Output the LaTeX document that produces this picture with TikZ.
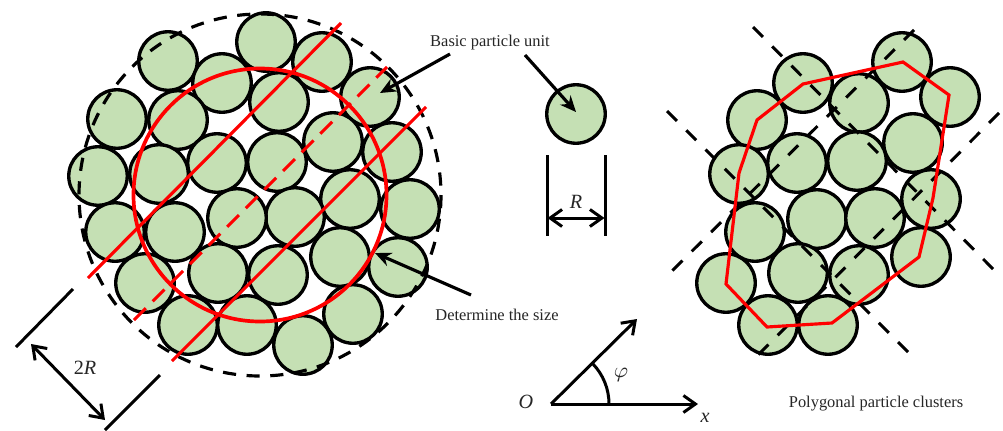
\documentclass[tikz,border=0pt]{standalone}
\usepackage{fontspec}
\setmainfont{Liberation Serif}
\usetikzlibrary{arrows.meta}
\definecolor{grain}{HTML}{C5E0B4}

\begin{document}
\begin{tikzpicture}[
    x=0.02cm, y=-0.02cm,
    font=\fontsize{9.35pt}{11pt}\selectfont, line width=1.9pt,
    particle/.style={draw,circle,fill=grain,inner sep=0pt,outer sep=0pt,minimum size=1.17cm},
    envelope/.style={line width=1.8pt,dash pattern=on 7.5pt off 6pt},
    redline/.style={red,line width=1.8pt},
    reddash/.style={redline,dash pattern=on 9.5pt off 5.5pt},
    cutline/.style={line width=1.7pt,dash pattern=on 8pt off 7.5pt},
    tick/.style={line width=1.7pt},
    dim/.style={{Straight Barb[length=2.4mm,width=3.4mm]}-{Straight Barb[length=2.4mm,width=3.4mm]},line width=1.7pt},
    leader/.style={-{Stealth[length=3.2mm,width=2.8mm]},line width=1.8pt},
    axis/.style={-{Straight Barb[length=2.4mm,width=3.4mm]},line width=1.7pt},
    label/.style={inner sep=0pt,text=black!85},
    symbol/.style={inner sep=0pt,font=\fontsize{11.5pt}{13pt}\selectfont\itshape,text=black!85}
]
\path[use as bounding box,fill=white] (0,0) rectangle (1003,430);

% left cluster
\foreach \x/\y [count=\i] in {168/61,222/83,117/119,178/120,98/176,159/174,217/163,266/42,
    322/62,279/102,370/97,333/142,392/152,277/162,410/209,350/199,295/217,115/232,175/232,
    237/218,145/283,218/273,188/325,247/325,278/275,340/257,398/267,353/314,303/345}
    \node[particle] (l\i) at (\x,\y) {};

\coordinate (mid) at (260,195);
\draw[envelope] (mid) circle[radius=181];
\draw[redline,line width=2.1pt] (mid) circle[radius=126.5];

\coordinate (cutAs) at (88,278);
\coordinate (cutAe) at (341,23);
\coordinate (cutBs) at (172,361);
\coordinate (cutBe) at (426,107);
\coordinate (cutCs) at (134,320);
\coordinate (cutCe) at (387,67);
\draw[redline] (cutAs) -- (cutAe);
\draw[redline] (cutBs) -- (cutBe);
\draw[reddash] (cutCs) -- (cutCe);

% size of the cluster
\coordinate (tickAs) at (16,347);
\coordinate (tickAe) at (73,289);
\coordinate (tickBs) at (105,430);
\coordinate (tickBe) at (160,375);
\coordinate (dimAs) at (31,344);
\coordinate (dimAe) at (105,420);
\draw[tick] (tickAs) -- (tickAe);
\draw[tick] (tickBs) -- (tickBe);
\draw[dim] (dimAs) -- (dimAe);
\node[symbol] (twoR) at (85,368) {{\upshape 2}R};

% single unit
\node[particle] (unit) at (576,114) {};
\coordinate (unitc) at (576,112);
\node[label] (basic) at (490,43) {Basic particle unit};
\coordinate (basicA) at (450,54);
\coordinate (basicAe) at (380,93);
\coordinate (basicB) at (525,55);
\draw[leader] (basicA) -- (basicAe);
\draw[leader] (basicB) -- (unitc);

\coordinate (rLs) at (547,155);
\coordinate (rLe) at (547,236);
\coordinate (rRs) at (605,155);
\coordinate (rRe) at (605,236);
\coordinate (dimBs) at (547.5,218);
\coordinate (dimBe) at (604.5,218);
\draw[tick] (rLs) -- (rLe);
\draw[tick] (rRs) -- (rRe);
\draw[dim] (dimBs) -- (dimBe);
\node[symbol] (rad) at (576,202) {R};

\node[label] (size) at (497,315) {Determine the size};
\coordinate (sizeA) at (471,295);
\coordinate (sizeAe) at (375,253);
\draw[leader] (sizeA) -- (sizeAe);

% axes
\coordinate (origin) at (551,404);
\coordinate (xend) at (698,404);
\coordinate (phiend) at (637,319);
\coordinate (arcs) at (609,404);
\draw[axis] (origin) -- (xend);
\draw[axis] (origin) -- (phiend);
\draw[line width=1.7pt] (arcs) arc[start angle=0,end angle=-44,radius=58];
\node[symbol] (olabel) at (526,402) {O};
\node[symbol] (xlabel) at (705,418) {x};
\node[inner sep=0pt,text=black!85,scale=1.35] (philabel) at (621,375) {$\varphi$};

% right cluster
\foreach \x/\y [count=\i] in {803/83,902/62,950/97,757/120,859/103,913/143,739/174,797/163,
    857/161,931/199,817/219,875/218,755/232,798/273,859/275,921/257,726/283,768/325,828/325}
    \node[particle] (r\i) at (\x,\y) {};

\coordinate (dashAs) at (753,27);
\coordinate (dashAe) at (999,275);
\coordinate (dashBs) at (667,111);
\coordinate (dashBe) at (914,358);
\coordinate (dashCs) at (914,30);
\coordinate (dashCe) at (667,276);
\coordinate (dashDs) at (999,113);
\coordinate (dashDe) at (753,360);
\foreach \n in {A,B,C,D}
    \draw[cutline] (dash\n s) -- (dash\n e);

\draw[redline,line join=miter] (757,120) -- (803,84) -- (903,62) -- (949,95)
    -- (933,198) -- (919,257) -- (832,323) -- (767,327) -- (726,284) -- (739,173) -- cycle;

\node[label] (poly) at (876,404) {Polygonal particle clusters};
\end{tikzpicture}
\end{document}
